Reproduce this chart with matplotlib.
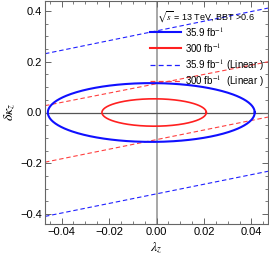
import numpy as np
import matplotlib
matplotlib.use('Agg')
from matplotlib import pyplot as plt
from matplotlib.ticker import MultipleLocator, FuncFormatter
from matplotlib.lines import Line2D

plt.rcParams['font.family'] = ['Liberation Sans', 'DejaVu Sans']
plt.rcParams['mathtext.fontset'] = 'stix'

# 椭圆: 中心 λ, 半轴 (λ, δκ)
ell_names = ['35.9 fb$^{-1}$', '300 fb$^{-1}$']
ell_center = [-0.0022, -0.0010]
ell_a = [0.0436, 0.0220]
ell_b = [0.116, 0.054]
ell_colors = ['#1010ff', '#ff2020']

# 线性近似边界 (λ 两端的值)
lin_lam = [-0.047, 0.047]
blue_upper = [0.232, 0.412]
blue_lower = [-0.410, -0.232]
red_upper = [0.027, 0.200]
red_lower = [-0.196, -0.018]
lin_names = ['35.9 fb$^{-1}$ (Linear )', '300 fb$^{-1}$  (Linear )']

W, H = 269, 259
fig = plt.figure(figsize=(W / 100, H / 100), dpi=100)
ax = fig.add_axes([45 / W, 35 / H, 223 / W, 223 / H])

ax.axvline(0, color='#a0a0a0', lw=1.3, zorder=1)
ax.axhline(0, color='#555555', lw=0.9, zorder=1)

t = np.linspace(0, 2 * np.pi, 400)
for c, a, b, col, lw in zip(ell_center, ell_a, ell_b, ell_colors, [1.5, 1.2]):
    ax.plot(c + a * np.cos(t), b * np.sin(t), color=col, lw=lw, zorder=3)

for ys, col in [(blue_upper, '#2020ff'), (blue_lower, '#2020ff'),
                (red_upper, '#ff4040'), (red_lower, '#ff4040')]:
    ax.plot(lin_lam, ys, color=col, lw=0.8, ls=(0, (4, 2.5)), zorder=2)

ax.set_xlim(-0.047, 0.047)
ax.set_ylim(-0.44, 0.44)
ax.xaxis.set_major_locator(MultipleLocator(0.02))
ax.xaxis.set_minor_locator(MultipleLocator(0.005))
ax.yaxis.set_major_locator(MultipleLocator(0.2))
ax.yaxis.set_minor_locator(MultipleLocator(0.05))
ax.xaxis.set_major_formatter(FuncFormatter(lambda v, p: ('%.2f' % v).replace('-', '\u2212')))
ax.yaxis.set_major_formatter(FuncFormatter(lambda v, p: ('%.1f' % v).replace('-', '\u2212')))
ax.tick_params(which='both', direction='in', top=True, right=True, color='#666666',
               labelsize=8, pad=2)
ax.tick_params(which='major', length=4, width=0.7)
ax.tick_params(which='minor', length=2, width=0.6)
for s in ax.spines.values():
    s.set_color('#666666')
    s.set_linewidth(0.8)

fig.text(10 / W, 1 - 112 / H, r'$\delta\kappa_z$', rotation=90, fontsize=10,
         ha='center', va='center')
fig.text(156 / W, 1 - 248 / H, r'$\lambda_z$', fontsize=10, ha='center', va='center')

# 图例
fig.text(157 / W, 1 - 17 / H, r'$\sqrt{s}$ = 13 TeV, BBT >0.6', fontsize=6.5,
         ha='left', va='center')
leg_y = [32, 48, 65, 81]
leg_style = [('#1010ff', '-', 1.5), ('#ff2020', '-', 1.5),
             ('#2020ff', (0, (4, 2.5)), 0.9), ('#ff4040', (0, (4, 2.5)), 0.9)]
leg_text = ell_names + lin_names
for py, (col, ls, lw), txt in zip(leg_y, leg_style, leg_text):
    fig.add_artist(Line2D([150 / W, 181 / W], [1 - py / H, 1 - py / H],
                          color=col, ls=ls, lw=lw, transform=fig.transFigure))
    fig.text(185 / W, 1 - py / H, txt, fontsize=7, ha='left', va='center')

fig.savefig('out.png', dpi=100)
